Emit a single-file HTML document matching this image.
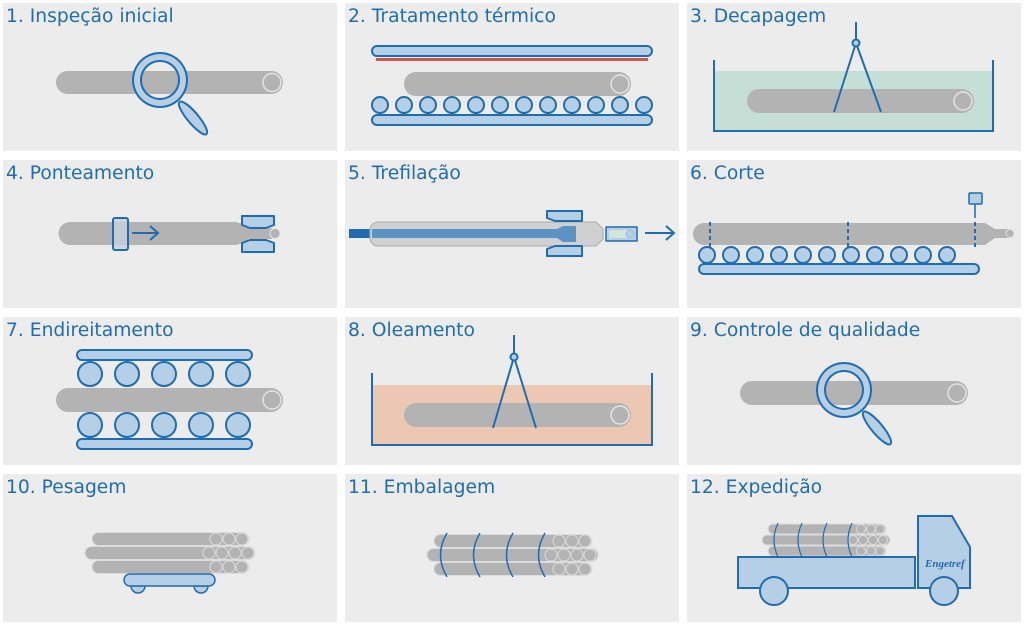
<!DOCTYPE html>
<html><head><meta charset="utf-8"><style>
html,body{margin:0;padding:0;background:#fff;}
svg{display:block;}
text{font-family:"DejaVu Sans","Liberation Sans",sans-serif;font-size:18.7px;fill:#1f6db0;}
</style></head><body>
<svg width="1024" height="626" viewBox="0 0 1024 626" xmlns="http://www.w3.org/2000/svg">
<g fill="#ececec">
<rect x="3" y="3" width="334" height="148"/><rect x="345" y="3" width="334" height="148"/><rect x="687" y="3" width="334" height="148"/>
<rect x="3" y="160" width="334" height="148"/><rect x="345" y="160" width="334" height="148"/><rect x="687" y="160" width="334" height="148"/>
<rect x="3" y="317" width="334" height="148"/><rect x="345" y="317" width="334" height="148"/><rect x="687" y="317" width="334" height="148"/>
<rect x="3" y="474" width="334" height="148"/><rect x="345" y="474" width="334" height="148"/><rect x="687" y="474" width="334" height="148"/>
</g>
<text x="6" y="22">1. Inspeção inicial</text>
<text x="348" y="22">2. Tratamento térmico</text>
<text x="690" y="22">3. Decapagem</text>
<text x="6" y="179">4. Ponteamento</text>
<text x="348" y="179">5. Trefilação</text>
<text x="690" y="179">6. Corte</text>
<text x="6" y="336">7. Endireitamento</text>
<text x="348" y="336">8. Oleamento</text>
<text x="690" y="336">9. Controle de qualidade</text>
<text x="6" y="493">10. Pesagem</text>
<text x="348" y="493">11. Embalagem</text>
<text x="690" y="493">12. Expedição</text>

<!-- 1 -->
<rect x="56" y="71" width="227" height="23" rx="11.5" fill="#b3b3b3"/>
<circle cx="272" cy="82.5" r="9" fill="#b3b3b3" stroke="#e4e4e4" stroke-width="1.5"/>
<g stroke="#1f6db0" stroke-width="2">
<ellipse cx="193" cy="118" rx="5.5" ry="21" transform="rotate(-40 193 118)" fill="#b5cfe6"/>
<path d="M160,53 a27,27 0 1 0 0.01,0 Z M160,61 a19,19 0 1 1 -0.01,0 Z" fill="#b5cfe6" fill-rule="evenodd"/>
</g>

<!-- 2 -->
<rect x="372" y="46" width="280" height="10" rx="5" fill="#b5cfe6" stroke="#1f6db0" stroke-width="2"/>
<line x1="376" y1="59.5" x2="648" y2="59.5" stroke="#c9584a" stroke-width="3"/>
<rect x="404" y="72" width="227" height="24" rx="12" fill="#b3b3b3"/>
<circle cx="620" cy="84" r="9" fill="#b3b3b3" stroke="#e4e4e4" stroke-width="1.5"/>
<g fill="#b5cfe6" stroke="#1f6db0" stroke-width="2">
<circle cx="380" cy="105" r="8"/><circle cx="404" cy="105" r="8"/><circle cx="428" cy="105" r="8"/><circle cx="452" cy="105" r="8"/><circle cx="476" cy="105" r="8"/><circle cx="500" cy="105" r="8"/><circle cx="524" cy="105" r="8"/><circle cx="548" cy="105" r="8"/><circle cx="572" cy="105" r="8"/><circle cx="596" cy="105" r="8"/><circle cx="620" cy="105" r="8"/><circle cx="644" cy="105" r="8"/>
<rect x="372" y="115" width="280" height="10" rx="5"/>
</g>

<!-- 3 -->
<rect x="715" y="71" width="278" height="60" fill="#c6dfd6"/>
<polyline points="714,60 714,131 993,131 993,60" fill="none" stroke="#1f6db0" stroke-width="2"/>
<rect x="747" y="89" width="227" height="24" rx="12" fill="#b3b3b3"/>
<circle cx="963" cy="101" r="9" fill="#b3b3b3" stroke="#e4e4e4" stroke-width="1.5"/>
<g stroke="#1f6db0" stroke-width="2" fill="none">
<line x1="856" y1="22" x2="856" y2="40"/>
<polyline points="834,112 856,43 881,112"/>
<circle cx="856" cy="43" r="3.5" fill="#b5cfe6"/>
</g>

<!-- 4 -->
<path d="M70,222 H236 L248,226 V241 L236,245 H70 A11.5,11.5 0 0 1 70,222 Z" fill="#b3b3b3"/>
<rect x="248" y="228" width="24" height="11" fill="#b3b3b3"/>
<circle cx="275" cy="233.5" r="5" fill="#b3b3b3" stroke="#e4e4e4" stroke-width="1"/>
<g stroke="#1f6db0" stroke-width="2">
<rect x="113" y="218" width="15" height="32" rx="2" fill="#c5d2dd" fill-opacity="0.8"/>
<path d="M132,233 H158 M150,226 L158,233 L150,240" fill="none"/>
<path d="M242,216 H274 V225 L266,228 H250 L242,225 Z" fill="#b5cfe6" stroke-linejoin="round"/>
<path d="M242,252 H274 V243 L266,240 H250 L242,243 Z" fill="#b5cfe6" stroke-linejoin="round"/>
</g>

<!-- 5 -->
<rect x="349" y="229" width="23" height="9" fill="#1f6db0"/>
<path d="M378,222 H596 L603,229 V239 L596,246 H378 A8,8 0 0 1 370,238 V230 A8,8 0 0 1 378,222 Z" fill="#d0d0d0" stroke="#aaa" stroke-width="1"/>
<path d="M372,229 H557 L563,226 H576 V242 H563 L557,238 H372 Z" fill="#5b94c4"/>
<g stroke="#1f6db0" stroke-width="2" fill="#b5cfe6" stroke-linejoin="round">
<path d="M547,211 H582 V221 H555 L547,218 Z"/>
<path d="M547,256 H582 V246 H555 L547,249 Z"/>
<rect x="606" y="227" width="31" height="14" stroke-width="1.5"/>
</g>
<rect x="609" y="230" width="25" height="8" fill="#d4e6d8"/>
<circle cx="630" cy="234" r="4" fill="#b5cfe6" stroke="#9bbbd8"/>
<path d="M645,233 H674 M666,226 L674,233 L666,240" fill="none" stroke="#1f6db0" stroke-width="2"/>

<!-- 6 -->
<path d="M704,223 H985 L995,229 H1010 A4.5,4.5 0 0 1 1010,238 H995 L985,245 H704 A11,11 0 0 1 704,223 Z" fill="#b3b3b3"/>
<circle cx="1010" cy="233.5" r="4" fill="#b3b3b3" stroke="#e4e4e4"/>
<g stroke="#1f6db0" stroke-width="2" stroke-dasharray="4,3">
<line x1="710" y1="222" x2="710" y2="247"/><line x1="848" y1="222" x2="848" y2="247"/><line x1="975" y1="222" x2="975" y2="247"/>
</g>
<line x1="975" y1="204" x2="975" y2="218" stroke="#1f6db0" stroke-width="1.5"/>
<rect x="969" y="193" width="13" height="11" rx="1" fill="#b5cfe6" stroke="#1f6db0" stroke-width="1.5"/>
<g fill="#b5cfe6" stroke="#1f6db0" stroke-width="2">
<circle cx="707" cy="255" r="8"/><circle cx="731" cy="255" r="8"/><circle cx="755" cy="255" r="8"/><circle cx="779" cy="255" r="8"/><circle cx="803" cy="255" r="8"/><circle cx="827" cy="255" r="8"/><circle cx="851" cy="255" r="8"/><circle cx="875" cy="255" r="8"/><circle cx="899" cy="255" r="8"/><circle cx="923" cy="255" r="8"/><circle cx="947" cy="255" r="8"/>
<rect x="699" y="264" width="280" height="10" rx="5"/>
</g>

<!-- 7 -->
<rect x="56" y="388" width="227" height="24" rx="12" fill="#b3b3b3"/>
<circle cx="272" cy="400" r="9" fill="#b3b3b3" stroke="#e4e4e4" stroke-width="1.5"/>
<g fill="#b5cfe6" stroke="#1f6db0" stroke-width="2">
<rect x="77" y="350" width="175" height="10" rx="5"/>
<circle cx="90" cy="374" r="12"/><circle cx="127" cy="374" r="12"/><circle cx="164" cy="374" r="12"/><circle cx="201" cy="374" r="12"/><circle cx="238" cy="374" r="12"/>
<circle cx="90" cy="425" r="12"/><circle cx="127" cy="425" r="12"/><circle cx="164" cy="425" r="12"/><circle cx="201" cy="425" r="12"/><circle cx="238" cy="425" r="12"/>
<rect x="77" y="439" width="175" height="10" rx="5"/>
</g>

<!-- 8 -->
<rect x="373" y="385" width="279" height="60" fill="#ecc8b3"/>
<polyline points="372,373 372,445 652,445 652,373" fill="none" stroke="#1f6db0" stroke-width="2"/>
<rect x="404" y="403" width="227" height="24" rx="12" fill="#b3b3b3"/>
<circle cx="620" cy="415" r="9" fill="#b3b3b3" stroke="#e4e4e4" stroke-width="1.5"/>
<g stroke="#1f6db0" stroke-width="2" fill="none">
<line x1="514" y1="335" x2="514" y2="353"/>
<polyline points="493,428 514,357 536,428"/>
<circle cx="514" cy="357" r="3.5" fill="#b5cfe6"/>
</g>

<!-- 9 -->
<rect x="740" y="381" width="228" height="24" rx="12" fill="#b3b3b3"/>
<circle cx="957" cy="393" r="9" fill="#b3b3b3" stroke="#e4e4e4" stroke-width="1.5"/>
<g stroke="#1f6db0" stroke-width="2">
<ellipse cx="877" cy="428" rx="5.5" ry="21" transform="rotate(-40 877 428)" fill="#b5cfe6"/>
<path d="M844,363 a27,27 0 1 0 0.01,0 Z M844,371 a19,19 0 1 1 -0.01,0 Z" fill="#b5cfe6" fill-rule="evenodd"/>
</g>

<!-- 10 -->
<g fill="#b3b3b3" stroke="#dcdcdc" stroke-width="1">
<rect x="92" y="532.5" width="157" height="13" rx="6.5"/>
<rect x="92" y="560.5" width="157" height="13" rx="6.5"/>
<rect x="85" y="546.5" width="170" height="13" rx="6.5"/>
<circle cx="216" cy="539" r="6"/><circle cx="229" cy="539" r="6"/><circle cx="242" cy="539" r="6"/>
<circle cx="209" cy="553" r="6"/><circle cx="222" cy="553" r="6"/><circle cx="235" cy="553" r="6"/><circle cx="248" cy="553" r="6"/>
<circle cx="216" cy="567" r="6"/><circle cx="229" cy="567" r="6"/><circle cx="242" cy="567" r="6"/>
</g>
<g fill="#b5cfe6" stroke="#1f6db0" stroke-width="1.5">
<path d="M131,586 A7,7 0 0 0 145,586 Z"/><path d="M194,586 A7,7 0 0 0 208,586 Z"/>
<rect x="124" y="574" width="91" height="12" rx="6"/>
</g>

<!-- 11 -->
<g fill="#b3b3b3" stroke="#dcdcdc" stroke-width="1">
<rect x="434" y="534.5" width="158" height="13" rx="6.5"/>
<rect x="434" y="562.5" width="158" height="13" rx="6.5"/>
<rect x="427" y="548.5" width="171" height="13" rx="6.5"/>
<circle cx="559" cy="541" r="6"/><circle cx="572" cy="541" r="6"/><circle cx="585" cy="541" r="6"/>
<circle cx="551" cy="555" r="6"/><circle cx="564" cy="555" r="6"/><circle cx="577" cy="555" r="6"/><circle cx="590" cy="555" r="6"/>
<circle cx="559" cy="569" r="6"/><circle cx="572" cy="569" r="6"/><circle cx="585" cy="569" r="6"/>
</g>
<g fill="none" stroke="#1f6db0" stroke-width="1.5">
<path d="M447,533 Q434,555 447,577"/><path d="M480,533 Q467,555 480,577"/><path d="M513,533 Q500,555 513,577"/><path d="M545,533 Q532,555 545,577"/>
</g>

<!-- 12 -->
<g fill="#b3b3b3" stroke="#dcdcdc" stroke-width="1">
<rect x="768" y="524" width="118" height="10" rx="5"/>
<rect x="768" y="546" width="118" height="10" rx="5"/>
<rect x="762" y="535" width="128" height="10" rx="5"/>
<circle cx="861" cy="529" r="4.5"/><circle cx="871" cy="529" r="4.5"/><circle cx="880" cy="529" r="4.5"/>
<circle cx="853" cy="540" r="4.5"/><circle cx="863" cy="540" r="4.5"/><circle cx="873" cy="540" r="4.5"/><circle cx="883" cy="540" r="4.5"/>
<circle cx="861" cy="551" r="4.5"/><circle cx="871" cy="551" r="4.5"/><circle cx="880" cy="551" r="4.5"/>
</g>
<g fill="none" stroke="#1f6db0" stroke-width="1.2">
<path d="M778,523 Q770,540 778,557"/><path d="M802,523 Q794,540 802,557"/><path d="M827,523 Q819,540 827,557"/><path d="M852,523 Q844,540 852,557"/>
</g>
<g fill="#b5cfe6" stroke="#1f6db0" stroke-width="2">
<rect x="738" y="557" width="177" height="31"/>
<path d="M918,516 H952 L970,547 V588 H918 Z"/>
<circle cx="774" cy="591" r="14"/><circle cx="944" cy="591" r="14"/>
</g>
<text x="925" y="567" style="font-family:'Liberation Serif',serif;font-style:italic;font-weight:bold;font-size:11px;fill:#1f6db0;">Engetref</text>
</svg>
</body></html>
